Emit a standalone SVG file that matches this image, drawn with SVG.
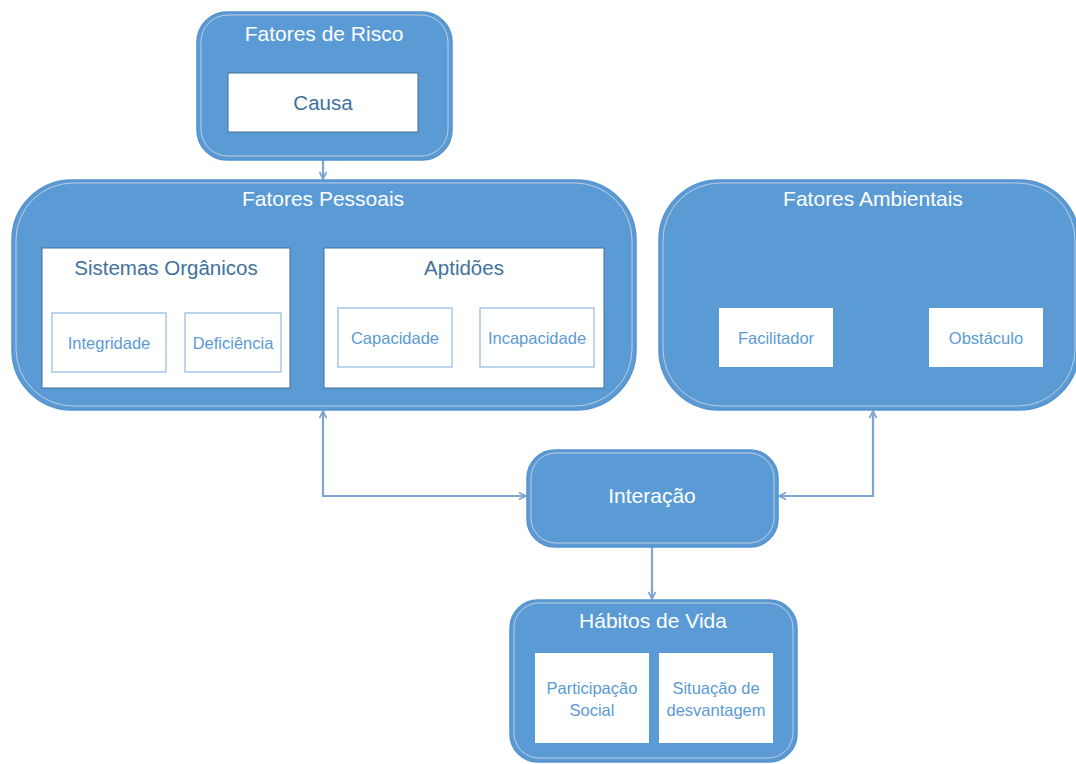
<svg xmlns="http://www.w3.org/2000/svg" width="1076" height="764" viewBox="0 0 1076 764">
  <defs>
    <style>
      .outer { fill: #5b9bd5; stroke: #5592d0; stroke-width: 1.5; }
      .rim { fill: none; stroke: #bfcde0; stroke-width: 1; }
      .panel { fill: #ffffff; stroke: #41719c; stroke-width: 1; }
      .leaf { fill: #ffffff; stroke: #8fb8e0; stroke-width: 1.2; }
      .plain { fill: #ffffff; stroke: none; }
      .title { font-family: "Liberation Sans", Arial, sans-serif; font-size: 21px; fill: #ffffff; text-anchor: middle; }
      .head { font-family: "Liberation Sans", Arial, sans-serif; font-size: 20.5px; fill: #41719c; text-anchor: middle; }
      .item { font-family: "Liberation Sans", Arial, sans-serif; font-size: 16.5px; fill: #5b9bd5; text-anchor: middle; }
      .link { fill: none; stroke: #7ea6d2; stroke-width: 2.2; }
      .inner-link { fill: none; stroke: #ffffff; stroke-width: 2; }
    </style>
    <marker id="head" viewBox="0 0 10 10" refX="9" refY="5" markerWidth="4" markerHeight="4" orient="auto-start-reverse" markerUnits="strokeWidth">
      <path d="M1,1 L9,5 L1,9" fill="none" stroke="#7ea6d2" stroke-width="2"/>
    </marker>
    <marker id="headWhite" viewBox="0 0 10 10" refX="9" refY="5" markerWidth="5" markerHeight="5" orient="auto-start-reverse" markerUnits="strokeWidth">
      <path d="M1,1 L9,5 L1,9" fill="none" stroke="#ffffff" stroke-width="2"/>
    </marker>
  </defs>

  <rect width="1076" height="764" fill="#ffffff"/>

  <!-- connectors -->
  <g id="connectors">
    <path class="link" d="M323,160 L323,179" marker-end="url(#head)"/>
    <path class="link" d="M323,411 L323,496 L526,496" marker-start="url(#head)" marker-end="url(#head)"/>
    <path class="link" d="M873,411 L873,496 L779,496" marker-start="url(#head)" marker-end="url(#head)"/>
    <path class="link" d="M652,547 L652,599" marker-end="url(#head)"/>
    <path class="inner-link" d="M291,318 L323,318" marker-start="url(#headWhite)" marker-end="url(#headWhite)"/>
  </g>

  <!-- Fatores de Risco -->
  <g id="fatores-risco">
    <rect class="outer" x="197" y="12" width="255" height="148" rx="30"/>
    <rect class="rim" x="201" y="15" width="247" height="141" rx="27"/>
    <text class="title" x="324" y="41">Fatores de Risco</text>
    <rect class="panel" x="228" y="73" width="190" height="59"/>
    <text class="head" x="323" y="110">Causa</text>
  </g>

  <!-- Fatores Pessoais -->
  <g id="fatores-pessoais">
    <rect class="outer" x="12" y="180" width="624" height="230" rx="60"/>
    <rect class="rim" x="16" y="183" width="616" height="223" rx="57"/>
    <text class="title" x="323" y="206">Fatores Pessoais</text>
  </g>

  <g id="sistemas-organicos">
    <rect class="panel" x="42" y="248" width="248" height="140"/>
    <text class="head" x="166" y="275">Sistemas Orgânicos</text>
  </g>
  <g id="integridade">
    <rect class="leaf" x="52" y="313" width="114" height="59"/>
    <text class="item" x="109" y="349">Integridade</text>
  </g>
  <g id="deficiencia">
    <rect class="leaf" x="185" y="313" width="96" height="59"/>
    <text class="item" x="233" y="349">Deficiência</text>
  </g>

  <g id="aptidoes">
    <rect class="panel" x="324" y="248" width="280" height="140"/>
    <text class="head" x="464" y="275">Aptidões</text>
  </g>
  <g id="capacidade">
    <rect class="leaf" x="338" y="308" width="114" height="59"/>
    <text class="item" x="395" y="344">Capacidade</text>
  </g>
  <g id="incapacidade">
    <rect class="leaf" x="480" y="308" width="114" height="59"/>
    <text class="item" x="537" y="344">Incapacidade</text>
  </g>

  <!-- Fatores Ambientais -->
  <g id="fatores-ambientais">
    <rect class="outer" x="659" y="180" width="420" height="230" rx="60"/>
    <rect class="rim" x="663" y="183" width="412" height="223" rx="57"/>
    <text class="title" x="873" y="206">Fatores Ambientais</text>
  </g>
  <g id="facilitador">
    <rect class="plain" x="719" y="308" width="114" height="59"/>
    <text class="item" x="776" y="344">Facilitador</text>
  </g>
  <g id="obstaculo">
    <rect class="plain" x="929" y="308" width="114" height="59"/>
    <text class="item" x="986" y="344">Obstáculo</text>
  </g>

  <!-- Interação -->
  <g id="interacao">
    <rect class="outer" x="527" y="450" width="251" height="97" rx="28"/>
    <rect class="rim" x="531" y="453" width="243" height="90" rx="25"/>
    <text class="title" x="652" y="503">Interação</text>
  </g>

  <!-- Hábitos de Vida -->
  <g id="habitos-vida">
    <rect class="outer" x="510" y="600" width="287" height="162" rx="28"/>
    <rect class="rim" x="514" y="603" width="279" height="155" rx="25"/>
    <text class="title" x="653" y="628">Hábitos de Vida</text>
  </g>
  <g id="participacao-social">
    <rect class="plain" x="535" y="653" width="114" height="90"/>
    <text class="item" x="592" y="694">Participação</text>
    <text class="item" x="592" y="716">Social</text>
  </g>
  <g id="situacao-desvantagem">
    <rect class="plain" x="659" y="653" width="114" height="90"/>
    <text class="item" x="716" y="694">Situação de</text>
    <text class="item" x="716" y="716">desvantagem</text>
  </g>
</svg>
